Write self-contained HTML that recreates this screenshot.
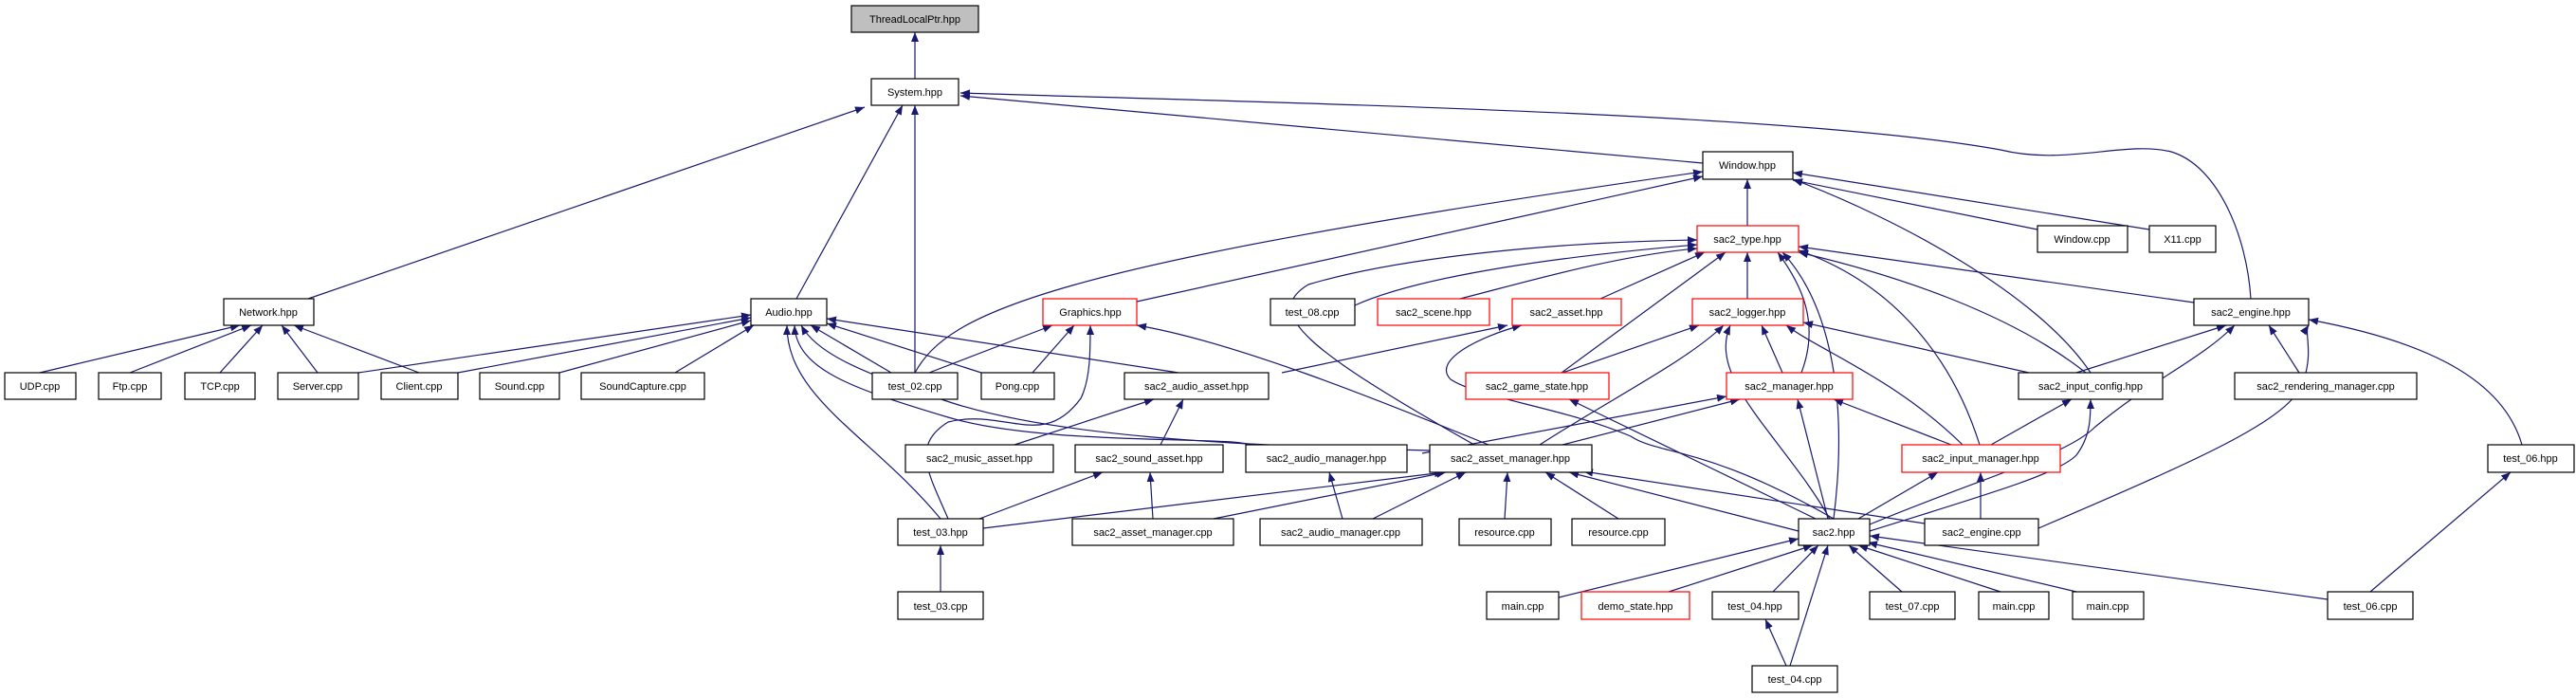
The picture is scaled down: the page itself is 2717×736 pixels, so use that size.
<!DOCTYPE html>
<html><head><meta charset="utf-8"><style>
html,body{margin:0;padding:0;background:#fff;}
svg{display:block;}
text{font-family:"Liberation Sans",sans-serif;font-size:11px;fill:#000;}
</style></head><body>
<svg width="2717" height="736" viewBox="0 0 2717 736" xmlns="http://www.w3.org/2000/svg">
<defs>
<marker id="a" viewBox="0 0 10 8" refX="10" refY="4" markerWidth="10" markerHeight="8" markerUnits="userSpaceOnUse" orient="auto">
<path d="M0,0 L10,4 L0,8 z" fill="#191970"/></marker>
</defs>
<g fill="none" stroke="#191970" stroke-width="1.2" marker-end="url(#a)">
<path d="M965 83 L965 34"/>
<!-- to System -->
<path d="M325 315 L912 113"/>
<path d="M840 315 L952 111"/>
<path d="M965 393 L965 111"/>
<path d="M1796 172 L1013 101"/>
<path d="M2374 315 C2370 250 2340 175 2290 160 C2240 148 2180 175 2110 158 C1900 120 1400 110 1013 98"/>
<!-- to Window -->
<path d="M1843 238 L1843 189"/>
<path d="M2149 242 L1891 190"/>
<path d="M2267 242 L1891 182"/>
<path d="M1199 318 L1796 186"/>
<path d="M965 393 C1000 330 1100 280 1796 181"/>
<path d="M2205 393 C2150 310 2000 230 1891 189"/>
<!-- to Network -->
<path d="M42 393 L253 343"/>
<path d="M137 393 L265 343"/>
<path d="M232 393 L277 343"/>
<path d="M335 393 L297 343"/>
<path d="M442 393 L310 343"/>
<!-- to Audio -->
<path d="M378 393 L792 332"/>
<path d="M483 393 L792 335"/>
<path d="M590 393 L792 338"/>
<path d="M712 393 L795 343"/>
<path d="M940 393 L855 343"/>
<path d="M1035 393 L872 341"/>
<path d="M1243 393 L872 336"/>
<path d="M992 547 C920 460 830 420 830 343"/>
<path d="M1318 469 C1300 460 1100 470 1000 440 C900 410 840 390 838 343"/>
<path d="M1508 475 C1300 470 1100 460 990 420 C900 390 860 370 845 343"/>
<!-- to Graphics -->
<path d="M980 393 L1110 343"/>
<path d="M1089 393 L1133 343"/>
<path d="M1000 547 C980 500 960 470 1000 445 C1060 430 1100 475 1140 420 C1150 400 1150 370 1150 343"/>
<path d="M1570 469 C1450 420 1300 360 1199 343"/>
<!-- to sac2_type -->
<path d="M1429 322 C1500 290 1650 270 1790 258"/>
<path d="M1540 315 C1600 300 1700 270 1790 262"/>
<path d="M1688 315 L1798 266"/>
<path d="M1647 393 L1820 266"/>
<path d="M1843 315 L1843 266"/>
<path d="M1900 393 C1920 340 1900 300 1875 266"/>
<path d="M2200 393 C2120 330 2000 290 1897 266"/>
<path d="M2088 469 C2060 380 2000 300 1897 264"/>
<path d="M2314 319 L1897 260"/>
<path d="M1934 547 C1950 420 1930 320 1880 266"/>
<path d="M1555 469 C1380 370 1330 330 1380 300 C1480 270 1650 255 1790 253"/>
<!-- sac2_asset -->
<path d="M1352 393 L1590 343"/>
<path d="M1934 547 C1800 470 1750 480 1720 460 C1650 430 1560 420 1530 400 C1510 380 1560 355 1605 343"/>
<!-- sac2_logger -->
<path d="M1648 393 L1792 343"/>
<path d="M1880 393 L1858 343"/>
<path d="M1624 469 C1700 420 1780 380 1818 343"/>
<path d="M1930 547 C1880 460 1800 400 1825 343"/>
<path d="M2070 469 C2000 400 1920 370 1884 343"/>
<path d="M2140 393 L1902 340"/>
<!-- sac2_manager -->
<path d="M1500 478 L1821 418"/>
<path d="M1648 469 L1835 421"/>
<path d="M1928 547 L1896 421"/>
<path d="M2058 469 L1934 421"/>
<!-- game_state -->
<path d="M1915 547 L1655 421"/>
<!-- sac2_engine.hpp -->
<path d="M2190 393 L2348 343"/>
<path d="M2425 393 L2393 343"/>
<path d="M1972 553 C2100 500 2180 480 2210 450 C2270 400 2320 380 2357 343"/>
<path d="M2150 557 C2330 480 2420 440 2430 400 C2440 370 2430 350 2435 343"/>
<path d="M2660 469 C2640 400 2560 360 2435 337"/>
<!-- input_config -->
<path d="M2100 469 L2185 421"/>
<path d="M1972 560 C2100 520 2170 500 2190 480 C2205 460 2205 440 2205 421"/>
<!-- input_manager -->
<path d="M1960 547 L2044 498"/>
<path d="M2089 547 L2089 498"/>
<!-- audio_asset -->
<path d="M1070 469 L1217 421"/>
<path d="M1224 469 L1248 421"/>
<!-- sound_asset -->
<path d="M1033 547 L1163 498"/>
<path d="M1216 547 L1213 498"/>
<!-- audio_manager.hpp -->
<path d="M1416 547 L1402 498"/>
<!-- asset_manager.hpp -->
<path d="M1037 557 L1523 498"/>
<path d="M1280 547 L1525 498"/>
<path d="M1448 547 L1546 498"/>
<path d="M1587 547 L1590 498"/>
<path d="M1707 547 L1630 498"/>
<path d="M1897 560 L1655 498"/>
<path d="M2030 552 L1670 497"/>
<!-- test_03 -->
<path d="M992 624 L992 575"/>
<!-- sac2.hpp children -->
<path d="M1644 630 L1897 568"/>
<path d="M1760 624 L1912 575"/>
<path d="M1870 624 L1918 575"/>
<path d="M1888 702 L1928 575"/>
<path d="M2006 624 L1950 575"/>
<path d="M2110 624 L1960 575"/>
<path d="M2190 624 L1970 572"/>
<path d="M2455 632 L1972 565"/>
<path d="M1884 702 L1862 653"/>
<!-- test_06 -->
<path d="M2500 624 L2648 498"/>
</g>
<g stroke-width="1.2">
<rect x="898" y="6" width="134" height="28" fill="#bfbfbf" stroke="#000"/>
<rect x="919" y="83" width="92" height="28" fill="#fff" stroke="#000"/>
<rect x="236" y="315" width="95" height="28" fill="#fff" stroke="#000"/>
<rect x="792" y="315" width="80" height="28" fill="#fff" stroke="#000"/>
<rect x="1100" y="315" width="99" height="28" fill="#fff" stroke="#f00"/>
<rect x="1340" y="315" width="89" height="28" fill="#fff" stroke="#000"/>
<rect x="1453" y="315" width="118" height="28" fill="#fff" stroke="#f00"/>
<rect x="1595" y="315" width="115" height="28" fill="#fff" stroke="#f00"/>
<rect x="1785" y="315" width="117" height="28" fill="#fff" stroke="#f00"/>
<rect x="2314" y="315" width="121" height="28" fill="#fff" stroke="#000"/>
<rect x="1796" y="160" width="95" height="29" fill="#fff" stroke="#000"/>
<rect x="1790" y="238" width="107" height="28" fill="#fff" stroke="#f00"/>
<rect x="2149" y="238" width="95" height="28" fill="#fff" stroke="#000"/>
<rect x="2267" y="238" width="70" height="28" fill="#fff" stroke="#000"/>
<rect x="5" y="393" width="75" height="28" fill="#fff" stroke="#000"/>
<rect x="104" y="393" width="66" height="28" fill="#fff" stroke="#000"/>
<rect x="195" y="393" width="74" height="28" fill="#fff" stroke="#000"/>
<rect x="293" y="393" width="85" height="28" fill="#fff" stroke="#000"/>
<rect x="402" y="393" width="81" height="28" fill="#fff" stroke="#000"/>
<rect x="506" y="393" width="84" height="28" fill="#fff" stroke="#000"/>
<rect x="613" y="393" width="130" height="28" fill="#fff" stroke="#000"/>
<rect x="920" y="393" width="90" height="28" fill="#fff" stroke="#000"/>
<rect x="1035" y="393" width="77" height="28" fill="#fff" stroke="#000"/>
<rect x="1186" y="393" width="152" height="28" fill="#fff" stroke="#000"/>
<rect x="1546" y="393" width="151" height="28" fill="#fff" stroke="#f00"/>
<rect x="1821" y="393" width="133" height="28" fill="#fff" stroke="#f00"/>
<rect x="2129" y="393" width="152" height="28" fill="#fff" stroke="#000"/>
<rect x="2357" y="393" width="192" height="28" fill="#fff" stroke="#000"/>
<rect x="955" y="469" width="156" height="29" fill="#fff" stroke="#000"/>
<rect x="1134" y="469" width="156" height="29" fill="#fff" stroke="#000"/>
<rect x="1314" y="469" width="170" height="29" fill="#fff" stroke="#000"/>
<rect x="1508" y="469" width="171" height="29" fill="#fff" stroke="#000"/>
<rect x="2006" y="469" width="167" height="29" fill="#fff" stroke="#f00"/>
<rect x="2624" y="469" width="91" height="29" fill="#fff" stroke="#000"/>
<rect x="947" y="547" width="90" height="28" fill="#fff" stroke="#000"/>
<rect x="1131" y="547" width="170" height="28" fill="#fff" stroke="#000"/>
<rect x="1329" y="547" width="171" height="28" fill="#fff" stroke="#000"/>
<rect x="1539" y="547" width="97" height="28" fill="#fff" stroke="#000"/>
<rect x="1658" y="547" width="98" height="28" fill="#fff" stroke="#000"/>
<rect x="1897" y="547" width="75" height="28" fill="#fff" stroke="#000"/>
<rect x="2030" y="547" width="120" height="28" fill="#fff" stroke="#000"/>
<rect x="947" y="624" width="90" height="29" fill="#fff" stroke="#000"/>
<rect x="1568" y="624" width="76" height="29" fill="#fff" stroke="#000"/>
<rect x="1668" y="624" width="114" height="29" fill="#fff" stroke="#f00"/>
<rect x="1806" y="624" width="91" height="29" fill="#fff" stroke="#000"/>
<rect x="1972" y="624" width="90" height="29" fill="#fff" stroke="#000"/>
<rect x="2087" y="624" width="74" height="29" fill="#fff" stroke="#000"/>
<rect x="2186" y="624" width="75" height="29" fill="#fff" stroke="#000"/>
<rect x="2455" y="624" width="90" height="29" fill="#fff" stroke="#000"/>
<rect x="1848" y="702" width="90" height="28" fill="#fff" stroke="#000"/>
</g>
<g text-anchor="middle">
<text x="965" y="24">ThreadLocalPtr.hpp</text>
<text x="965" y="101">System.hpp</text>
<text x="283" y="333">Network.hpp</text>
<text x="832" y="333">Audio.hpp</text>
<text x="1150" y="333">Graphics.hpp</text>
<text x="1384" y="333">test_08.cpp</text>
<text x="1512" y="333">sac2_scene.hpp</text>
<text x="1652" y="333">sac2_asset.hpp</text>
<text x="1843" y="333">sac2_logger.hpp</text>
<text x="2374" y="333">sac2_engine.hpp</text>
<text x="1843" y="178">Window.hpp</text>
<text x="1843" y="256">sac2_type.hpp</text>
<text x="2196" y="256">Window.cpp</text>
<text x="2302" y="256">X11.cpp</text>
<text x="42" y="411">UDP.cpp</text>
<text x="137" y="411">Ftp.cpp</text>
<text x="232" y="411">TCP.cpp</text>
<text x="335" y="411">Server.cpp</text>
<text x="442" y="411">Client.cpp</text>
<text x="548" y="411">Sound.cpp</text>
<text x="678" y="411">SoundCapture.cpp</text>
<text x="965" y="411">test_02.cpp</text>
<text x="1073" y="411">Pong.cpp</text>
<text x="1262" y="411">sac2_audio_asset.hpp</text>
<text x="1621" y="411">sac2_game_state.hpp</text>
<text x="1887" y="411">sac2_manager.hpp</text>
<text x="2205" y="411">sac2_input_config.hpp</text>
<text x="2453" y="411">sac2_rendering_manager.cpp</text>
<text x="1033" y="487">sac2_music_asset.hpp</text>
<text x="1212" y="487">sac2_sound_asset.hpp</text>
<text x="1399" y="487">sac2_audio_manager.hpp</text>
<text x="1593" y="487">sac2_asset_manager.hpp</text>
<text x="2089" y="487">sac2_input_manager.hpp</text>
<text x="2669" y="487">test_06.hpp</text>
<text x="992" y="565">test_03.hpp</text>
<text x="1216" y="565">sac2_asset_manager.cpp</text>
<text x="1414" y="565">sac2_audio_manager.cpp</text>
<text x="1587" y="565">resource.cpp</text>
<text x="1707" y="565">resource.cpp</text>
<text x="1934" y="565">sac2.hpp</text>
<text x="2090" y="565">sac2_engine.cpp</text>
<text x="992" y="643">test_03.cpp</text>
<text x="1606" y="643">main.cpp</text>
<text x="1725" y="643">demo_state.hpp</text>
<text x="1851" y="643">test_04.hpp</text>
<text x="2017" y="643">test_07.cpp</text>
<text x="2124" y="643">main.cpp</text>
<text x="2223" y="643">main.cpp</text>
<text x="2500" y="643">test_06.cpp</text>
<text x="1893" y="720">test_04.cpp</text>
</g>
</svg>
</body></html>
